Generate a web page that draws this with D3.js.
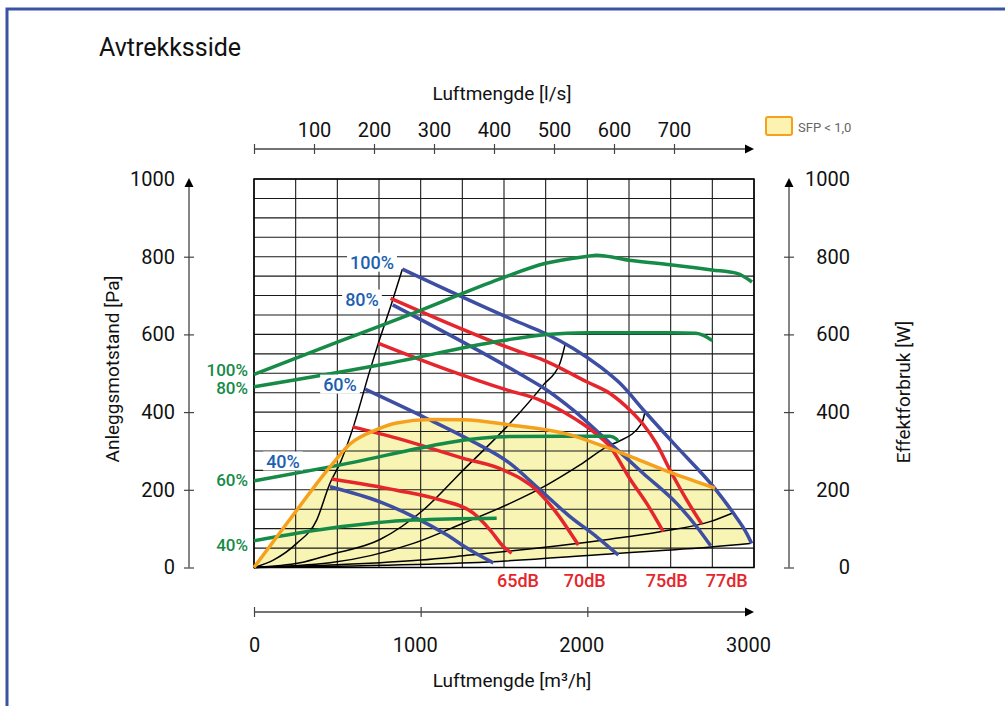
<!DOCTYPE html>
<html><head><meta charset="utf-8">
<script src="https://cdn.jsdelivr.net/npm/d3@7"></script>
<style>
body{margin:0;background:#fff;}
svg{display:block;font-family:Roboto,"Open Sans",sans-serif;}
</style></head><body>
<svg id="chart" width="1005" height="706"></svg>
<script>
// ---------- DATA (airflow m3/h, pressure Pa / power W) ----------
const bottomTicks = [0, 1000, 2000];
const bottomLabels = [0, 1000, 2000, 3000];
const topTicks = [100, 200, 300, 400, 500, 600, 700];
const yTicks = [0, 200, 400, 600, 800, 1000];

// fan curves (blue)
const fan100 = [[890,768],[1596,630],[1746,603],[1916,564],[2076,517],[2196,474],[2346,401],[2536,311],[2756,208],[2876,140],[2956,88],[2986,62]];
const fan80  = [[832,676],[1596,498],[1756,457],[1916,405],[2136,320],[2336,242],[2536,165],[2656,105],[2740,56]];
const fan60  = [[666,459],[1016,388],[1296,328],[1536,268],[1696,208],[1896,131],[2056,79],[2186,32]];
const fan40  = [[456,208],[756,169],[956,131],[1156,84],[1296,45],[1436,12]];

// sound level curves (red)
const db77 = [[820,693],[1596,555],[1736,534],[1996,478],[2136,448],[2256,405],[2336,368],[2416,318],[2496,251],[2596,174],[2686,112]];
const db75 = [[746,577],[1166,508],[1516,457],[1716,431],[1936,380],[2036,350],[2136,311],[2256,228],[2356,165],[2456,92]];
const db70 = [[592,362],[856,333],[1256,281],[1496,251],[1696,199],[1816,140],[1946,58]];
const db65 = [[466,228],[856,199],[1116,174],[1316,140],[1416,97],[1496,54],[1546,37]];

// power curves (green, W)
const pow100 = [[0,497],[500,580],[1000,662],[1476,743],[1750,783],[1998,801],[2056,804],[2250,791],[2500,779],[2748,766],[2898,757],[2988,735]];
const pow80  = [[0,465],[800,525],[1476,583],[1756,600],[1998,604],[2500,604],[2650,603],[2700,597],[2750,584]];
const pow60  = [[0,223],[456,259],[1536,337],[2016,338],[2136,338],[2176,330],[2184,324]];
const pow40  = [[0,69],[456,101],[956,122],[1456,127]];

// system curves (black)
const sys1 = [[0,0],[116,19],[256,62],[376,122],[456,217],[516,268],[596,362],[696,508],[746,577],[826,680],[890,768]];
const sys2 = [[0,0],[276,12],[456,33],[756,72],[1016,148],[1256,251],[1536,371],[1736,470],[1836,526],[1866,573]];
const sys3 = [[0,0],[456,12],[956,62],[1256,114],[1536,165],[1756,212],[1956,264],[2136,315],[2186,324],[2326,371],[2346,401]];
const sys4 = [[0,0],[500,7],[1000,19],[1296,32],[1800,55],[2136,73],[2436,92],[2736,118],[2876,141]];
const sys5 = [[0,0],[600,4],[1296,12],[2136,35],[2600,48],[2976,62]];

// SFP < 1.0 limit (orange)
const sfpLimit = [[0,0],[200,115],[456,259],[576,318],[736,355],[856,372],[1056,381],[1256,380],[1536,367],[1876,344],[2116,309],[2316,276],[2516,242],[2766,204]];

const fanLabels = ["100%","80%","60%","40%"];
const powLabels = ["100%","80%","60%","40%"];
const dbLabels = ["65dB","70dB","75dB","77dB"];

// ---------- STYLE ----------
const C = {blue:"#3e4fa3", blueText:"#1d5fb1", red:"#e5262d", green:"#168a47", orange:"#f6a11c", fill:"#f8f4b4", frame:"#3953a4", axis:"#444"};

const svg = d3.select("#chart");
const x = d3.scaleLinear().domain([0,3000]).range([254,754]);
const xLs = d3.scaleLinear().domain([0,3000/3.6]).range([254,754]);
const y = d3.scaleLinear().domain([0,1000]).range([567.5,179]);
const fmt = d3.format("d");

// frame
svg.append("rect").attr("x",7).attr("y",9).attr("width",1010).attr("height",720)
  .attr("fill","none").attr("stroke",C.frame).attr("stroke-width",3);

svg.append("text").attr("x",99).attr("y",47).attr("dominant-baseline","central")
  .attr("font-size",25).attr("fill","#111").text("Avtrekksside");

const lineM = d3.line().x(d=>x(d[0])).y(d=>y(d[1])).curve(d3.curveMonotoneX);
const lineL = d3.line().x(d=>x(d[0])).y(d=>y(d[1]));

// fill region: orange limit, down the 100% fan curve, back along lowest system curve
const tail = fan100.filter(d=>d[0]>sfpLimit[sfpLimit.length-1][0]);
const fillPath = lineM(sfpLimit) + lineM(tail).replace(/^M/,"L") + lineL(sys5.slice().reverse()).replace(/^M/,"L") + "Z";
svg.append("path").attr("d",fillPath).attr("fill",C.fill);

// grid
const grid = svg.append("g").attr("stroke","#1a1a1a").attr("stroke-width",1.1);
d3.range(0,3001,250).forEach(v=>grid.append("line").attr("x1",x(v)).attr("x2",x(v)).attr("y1",y(0)).attr("y2",y(1000)));
d3.range(0,1001,50).forEach(v=>grid.append("line").attr("y1",y(v)).attr("y2",y(v)).attr("x1",x(0)).attr("x2",x(3000)));
svg.append("rect").attr("x",x(0)).attr("y",y(1000)).attr("width",x(3000)-x(0)).attr("height",y(0)-y(1000))
  .attr("fill","none").attr("stroke","#000").attr("stroke-width",1.5);

// curves
const drawSet = (sets,color,w)=>sets.forEach(s=>svg.append("path").attr("d",lineM(s)).attr("fill","none")
  .attr("stroke",color).attr("stroke-width",w).attr("stroke-linejoin","round"));
drawSet([sys1,sys2,sys3,sys4,sys5],"#000",1.5);
drawSet([fan100,fan80,fan60,fan40],C.blue,3.5);
drawSet([db77,db75,db70,db65],C.red,3.5);
drawSet([pow100,pow80,pow60,pow40],C.green,3.5);
drawSet([sfpLimit],C.orange,3.5);

// blue fan labels with white knock-out
const fanLabelPos = [[708,786],[648,691],[516,472],[174,274]];
fanLabels.forEach((t,i)=>{
  const g = svg.append("g");
  const tx = g.append("text").attr("x",x(fanLabelPos[i][0])).attr("y",y(fanLabelPos[i][1]))
    .attr("text-anchor","middle").attr("dominant-baseline","central")
    .attr("font-size",18).attr("font-weight",500).attr("fill",C.blueText).text(t);
  const b = tx.node().getBBox();
  g.insert("rect","text").attr("x",b.x-3).attr("y",b.y+1).attr("width",b.width+6).attr("height",b.height-2).attr("fill","#fff");
});
// green power labels
const powLabelY = [509,461,225,58];
powLabels.forEach((t,i)=>svg.append("text").attr("x",x(0)-6).attr("y",y(powLabelY[i]))
  .attr("text-anchor","end").attr("dominant-baseline","central").attr("font-size",17).attr("font-weight",500)
  .attr("fill",C.green).text(t));
// red dB labels
const dbLabelX = [1584,1984,2476,2836];
dbLabels.forEach((t,i)=>svg.append("text").attr("x",x(dbLabelX[i])).attr("y",580)
  .attr("text-anchor","middle").attr("dominant-baseline","central").attr("font-size",18).attr("font-weight",500)
  .attr("fill",C.red).text(t));

// ---------- AXES ----------
function styleAxis(g){
  g.attr("font-family","Roboto, 'Open Sans', sans-serif").attr("font-size",20);
  g.select(".domain").remove();
  g.selectAll(".tick line").attr("stroke",C.axis).attr("stroke-width",1.2);
  g.selectAll(".tick text").attr("fill","#111");
}
// top axis (l/s)
const gTop = svg.append("g").attr("transform","translate(0,149)")
  .call(d3.axisTop(xLs).tickValues([0].concat(topTicks)).tickFormat(d=>d===0?"":fmt(d)));
styleAxis(gTop);
gTop.selectAll(".tick line").attr("y1",-5).attr("y2",5);
gTop.selectAll(".tick text").attr("y",-19).attr("dy","0.35em");
gTop.append("line").attr("x1",x(0)).attr("x2",x(3000)-6).attr("stroke",C.axis).attr("stroke-width",1.3);
gTop.append("path").attr("d",`M${x(3000)},0L${x(3000)-9},-4.5L${x(3000)-9},4.5Z`).attr("fill","#000");
svg.append("text").attr("x",502).attr("y",93).attr("text-anchor","middle").attr("dominant-baseline","central")
  .attr("font-size",19).attr("fill","#111").text("Luftmengde [l/s]");

// bottom axis (m3/h)
const gBot = svg.append("g").attr("transform","translate(0,612)")
  .call(d3.axisBottom(x).tickValues(bottomLabels).tickFormat(fmt));
styleAxis(gBot);
gBot.selectAll(".tick line").attr("y1",-5).attr("y2",5).attr("opacity",d=>bottomTicks.includes(d)?1:0);
gBot.selectAll(".tick text").attr("y",33).attr("dy","0.35em").attr("dx",d=>d===0?0:-6);
gBot.append("line").attr("x1",x(0)).attr("x2",x(3000)-6).attr("stroke",C.axis).attr("stroke-width",1.3);
gBot.append("path").attr("d",`M${x(3000)},0L${x(3000)-9},-4.5L${x(3000)-9},4.5Z`).attr("fill","#000");
svg.append("text").attr("x",512).attr("y",680).attr("text-anchor","middle").attr("dominant-baseline","central")
  .attr("font-size",19).attr("fill","#111").text("Luftmengde [m³/h]");

// left axis (Pa)
const gL = svg.append("g").attr("transform","translate(189,0)").call(d3.axisLeft(y).tickValues(yTicks).tickFormat(fmt));
styleAxis(gL);
gL.selectAll(".tick line").attr("x1",-5).attr("x2",5).attr("opacity",d=>d<1000?1:0);
gL.selectAll(".tick text").attr("x",-14);
gL.append("line").attr("y1",y(0)).attr("y2",y(1000)+6).attr("stroke",C.axis).attr("stroke-width",1.3);
gL.append("path").attr("d",`M0,${y(1000)-1}L-4.5,${y(1000)+8}L4.5,${y(1000)+8}Z`).attr("fill","#000");
svg.append("text").attr("transform","translate(112,369) rotate(-90)").attr("text-anchor","middle")
  .attr("dominant-baseline","central").attr("font-size",19).attr("fill","#111").text("Anleggsmotstand [Pa]");

// right axis (W)
const gR = svg.append("g").attr("transform","translate(789,0)").call(d3.axisRight(y).tickValues(yTicks).tickFormat(fmt));
styleAxis(gR);
gR.selectAll(".tick line").attr("x1",-5).attr("x2",5).attr("opacity",d=>d<1000?1:0);
gR.selectAll(".tick text").attr("x",61).attr("text-anchor","end");
gR.append("line").attr("y1",y(0)).attr("y2",y(1000)+6).attr("stroke",C.axis).attr("stroke-width",1.3);
gR.append("path").attr("d",`M0,${y(1000)-1}L-4.5,${y(1000)+8}L4.5,${y(1000)+8}Z`).attr("fill","#000");
svg.append("text").attr("transform","translate(903,392) rotate(-90)").attr("text-anchor","middle")
  .attr("dominant-baseline","central").attr("font-size",19).attr("fill","#111").text("Effektforbruk [W]");

// legend
svg.append("rect").attr("x",766).attr("y",117).attr("width",26).attr("height",18).attr("rx",2)
  .attr("fill","#fdf3b0").attr("stroke",C.orange).attr("stroke-width",2);
svg.append("text").attr("x",798).attr("y",127).attr("dominant-baseline","central").attr("font-size",13)
  .attr("fill","#666").text("SFP < 1,0");
</script>
</body></html>
